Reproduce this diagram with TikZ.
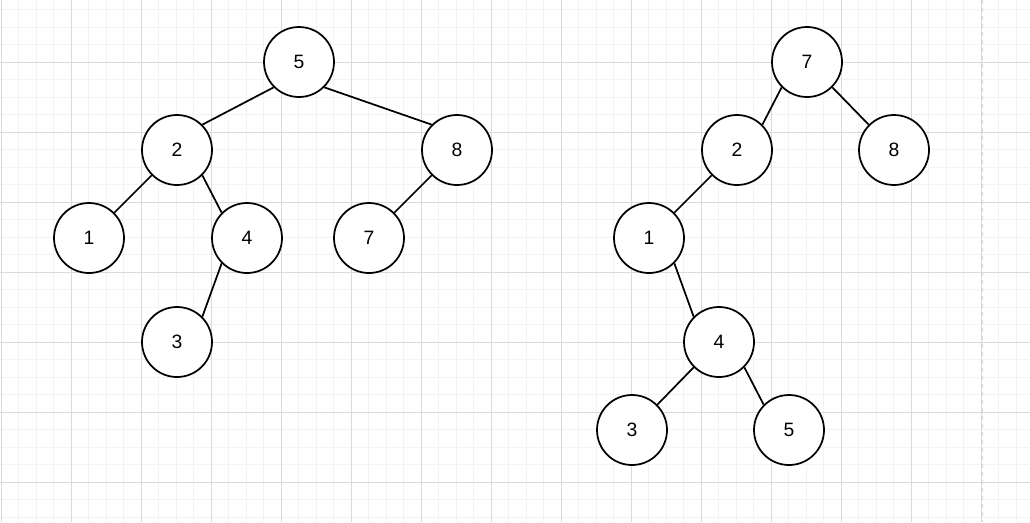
\documentclass[tikz,border=0pt]{standalone}
\usepackage{fontspec}
\setmainfont{Liberation Sans}
\definecolor{minorgrid}{HTML}{F3F3F3}
\definecolor{majorgrid}{HTML}{DADADA}
\begin{document}
\begin{tikzpicture}[x=0.75pt,y=-0.75pt,
  treenode/.style={circle,draw,fill=white,line width=1.3pt,minimum size=52.5pt,inner sep=0pt,
    font=\fontsize{14.5}{14.5}\selectfont},
  edge/.style={line width=1.3pt},
  minorline/.style={minorgrid,line width=0.75pt},
  majorline/.style={majorgrid,line width=0.75pt}]
  \useasboundingbox (0,0) rectangle (1030,522);
  % grid
  \foreach \gx in {1,18.5,...,1030} \draw[minorline] (\gx,0) -- (\gx,522);
  \foreach \gy in {9.5,27,...,522} \draw[minorline] (0,\gy) -- (1030,\gy);
  \foreach \gx in {1,71,...,1030} \draw[majorline] (\gx,0) -- (\gx,522);
  \foreach \gy in {62,132,...,522} \draw[majorline] (0,\gy) -- (1030,\gy);
  \draw[majorline,dashed] (982,0) -- (982,522);
  % left tree
  \node[treenode] (lfive) at (299,62) {5};
  \node[treenode] (ltwo) at (177,150) {2};
  \node[treenode] (leight) at (457,150) {8};
  \node[treenode] (lone) at (89,238) {1};
  \node[treenode] (lfour) at (247,238) {4};
  \node[treenode] (lseven) at (369,238) {7};
  \node[treenode] (lthree) at (177,342) {3};
  \draw[edge] (lfive.south west) -- (ltwo.north east);
  \draw[edge] (lfive.south east) -- (leight.north west);
  \draw[edge] (ltwo.south west) -- (lone.north east);
  \draw[edge] (ltwo.south east) -- (lfour.north west);
  \draw[edge] (lfour.south west) -- (lthree.north east);
  \draw[edge] (leight.south west) -- (lseven.north east);
  % right tree
  \node[treenode] (rseven) at (807,62) {7};
  \node[treenode] (rtwo) at (737,150) {2};
  \node[treenode] (reight) at (894,150) {8};
  \node[treenode] (rone) at (649,238) {1};
  \node[treenode] (rfour) at (719,342) {4};
  \node[treenode] (rthree) at (632,430) {3};
  \node[treenode] (rfive) at (789,430) {5};
  \draw[edge] (rseven.south west) -- (rtwo.north east);
  \draw[edge] (rseven.south east) -- (reight.north west);
  \draw[edge] (rtwo.south west) -- (rone.north east);
  \draw[edge] (rone.south east) -- (rfour.north west);
  \draw[edge] (rfour.south west) -- (rthree.north east);
  \draw[edge] (rfour.south east) -- (rfive.north west);
\end{tikzpicture}
\end{document}
